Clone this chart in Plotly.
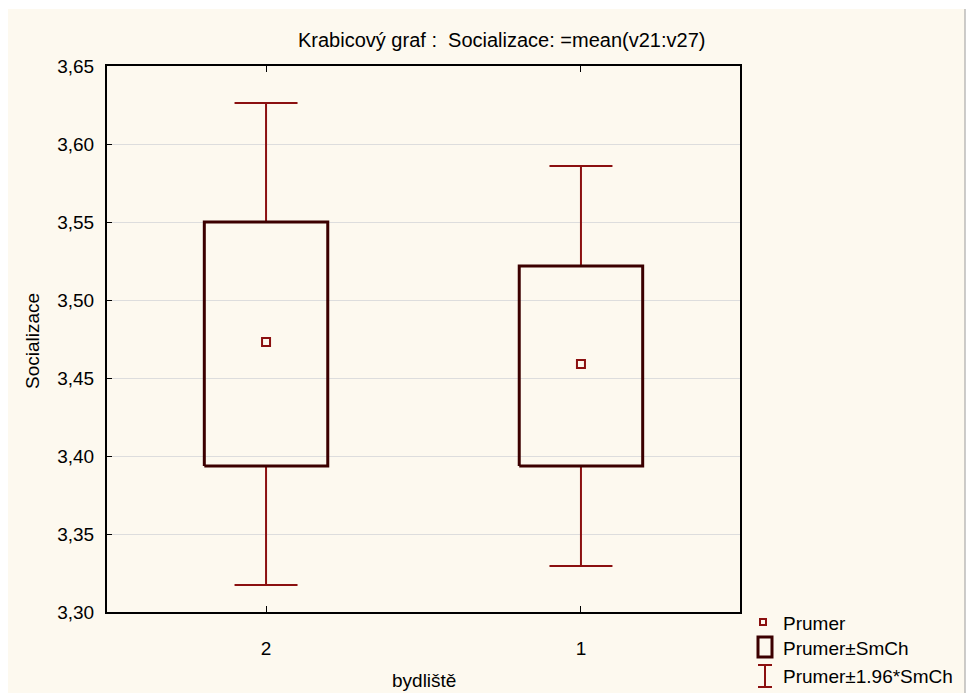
import plotly.graph_objects as go

# ---- data ----
categories = ["2", "1"]
means = [3.473, 3.459]
box_low = [3.3936, 3.3936]
box_high = [3.5500, 3.5218]
whisk_low = [3.3173, 3.3295]
whisk_high = [3.6263, 3.5859]
y_ticks = [3.30, 3.35, 3.40, 3.45, 3.50, 3.55, 3.60, 3.65]

W, H = 970, 693
L, R, T, B = 107, 230, 66, 81
PW, PH = W - L - R, H - T - B

def px(x):
    return (x - L) / PW

def py(y):
    return (H - B - y) / PH

BOX_C = "#3c0000"
WH_C = "#8b1010"
FONT = "Liberation Sans, Arial, sans-serif"

fig = go.Figure()
xs = list(range(len(categories)))
bw = 0.196
cw = 0.1

for i, c in enumerate(categories):
    # whiskers
    fig.add_trace(go.Scatter(
        x=[i, i, None, i, i, None, i - cw, i + cw, None, i - cw, i + cw],
        y=[box_high[i], whisk_high[i], None, box_low[i], whisk_low[i], None,
           whisk_high[i], whisk_high[i], None, whisk_low[i], whisk_low[i]],
        mode="lines", line=dict(color=WH_C, width=2), showlegend=False, hoverinfo="skip"))
    # box
    fig.add_trace(go.Scatter(
        x=[i - bw, i + bw, i + bw, i - bw, i - bw],
        y=[box_low[i], box_low[i], box_high[i], box_high[i], box_low[i]],
        mode="lines", line=dict(color=BOX_C, width=3), showlegend=False, hoverinfo="skip"))

fig.add_trace(go.Scatter(
    x=xs, y=means, mode="markers",
    marker=dict(symbol="square-open", size=8, color=WH_C, line=dict(width=2, color=WH_C)),
    showlegend=False, hoverinfo="skip"))

shapes = []
# cream background and right border
shapes.append(dict(type="rect", xref="paper", yref="paper", x0=px(8), x1=px(965), y0=py(9), y1=py(700),
                   fillcolor="#fdf9ef", line=dict(width=0), layer="below"))
shapes.append(dict(type="line", xref="paper", yref="paper", x0=px(965), x1=px(965), y0=py(9), y1=py(700),
                   line=dict(color="#9a9a9a", width=1)))
# legend symbols
shapes.append(dict(type="rect", xref="paper", yref="paper", x0=px(760), x1=px(766), y0=py(625), y1=py(619),
                   line=dict(color=WH_C, width=2)))
shapes.append(dict(type="rect", xref="paper", yref="paper", x0=px(758), x1=px(772), y0=py(657), y1=py(637),
                   line=dict(color=BOX_C, width=3)))
shapes.append(dict(type="line", xref="paper", yref="paper", x0=px(765), x1=px(765), y0=py(687), y1=py(665),
                   line=dict(color=WH_C, width=2)))
shapes.append(dict(type="line", xref="paper", yref="paper", x0=px(758), x1=px(772), y0=py(665), y1=py(665),
                   line=dict(color=WH_C, width=2)))
shapes.append(dict(type="line", xref="paper", yref="paper", x0=px(758), x1=px(772), y0=py(687), y1=py(687),
                   line=dict(color=WH_C, width=2)))

annotations = []
legend_labels = ["Prumer", "Prumer±SmCh", "Prumer±1.96*SmCh"]
legend_y = [623, 648, 676]
for lab, yy in zip(legend_labels, legend_y):
    annotations.append(dict(text=lab, xref="paper", yref="paper", x=px(781), y=py(yy),
                            xanchor="left", yanchor="middle", showarrow=False,
                            font=dict(family=FONT, size=19, color="#000")))
annotations.append(dict(text="Krabicový graf :  Socializace: =mean(v21:v27)", xref="paper", yref="paper",
                        x=px(501), y=py(40), xanchor="center", yanchor="middle", showarrow=False,
                        font=dict(family=FONT, size=20, color="#000")))
annotations.append(dict(text="Socializace", xref="paper", yref="paper", x=px(32), y=py(341),
                        textangle=-90, xanchor="center", yanchor="middle", showarrow=False,
                        font=dict(family=FONT, size=19, color="#000")))
annotations.append(dict(text="bydliště", xref="paper", yref="paper", x=px(424), y=py(680),
                        xanchor="center", yanchor="middle", showarrow=False,
                        font=dict(family=FONT, size=19, color="#000")))

fig.update_layout(
    width=W, height=H,
    margin=dict(l=L, r=R, t=T, b=B),
    paper_bgcolor="white", plot_bgcolor="white",
    separators=",.",
    showlegend=False,
    shapes=shapes, annotations=annotations,
    font=dict(family=FONT, size=19, color="#000"),
)
fig.update_xaxes(range=[-0.505, 1.505], tickvals=xs, ticktext=categories,
                 showgrid=False, zeroline=False, showline=True, linecolor="#000", linewidth=2,
                 mirror="ticks", ticks="inside", ticklen=6, tickwidth=1, tickcolor="#000",
                 tickfont=dict(family=FONT, size=19), ticklabelstandoff=18)
fig.update_yaxes(range=[3.30, 3.65], tickvals=y_ticks, tickformat=".2f",
                 showgrid=True, gridcolor="#dddddd", gridwidth=1, zeroline=False,
                 showline=True, linecolor="#000", linewidth=2, mirror=True,
                 ticks="inside", ticklen=5, tickwidth=1, tickcolor="#000",
                 tickfont=dict(family=FONT, size=19), ticklabelstandoff=7)

fig.write_html("out.html")
